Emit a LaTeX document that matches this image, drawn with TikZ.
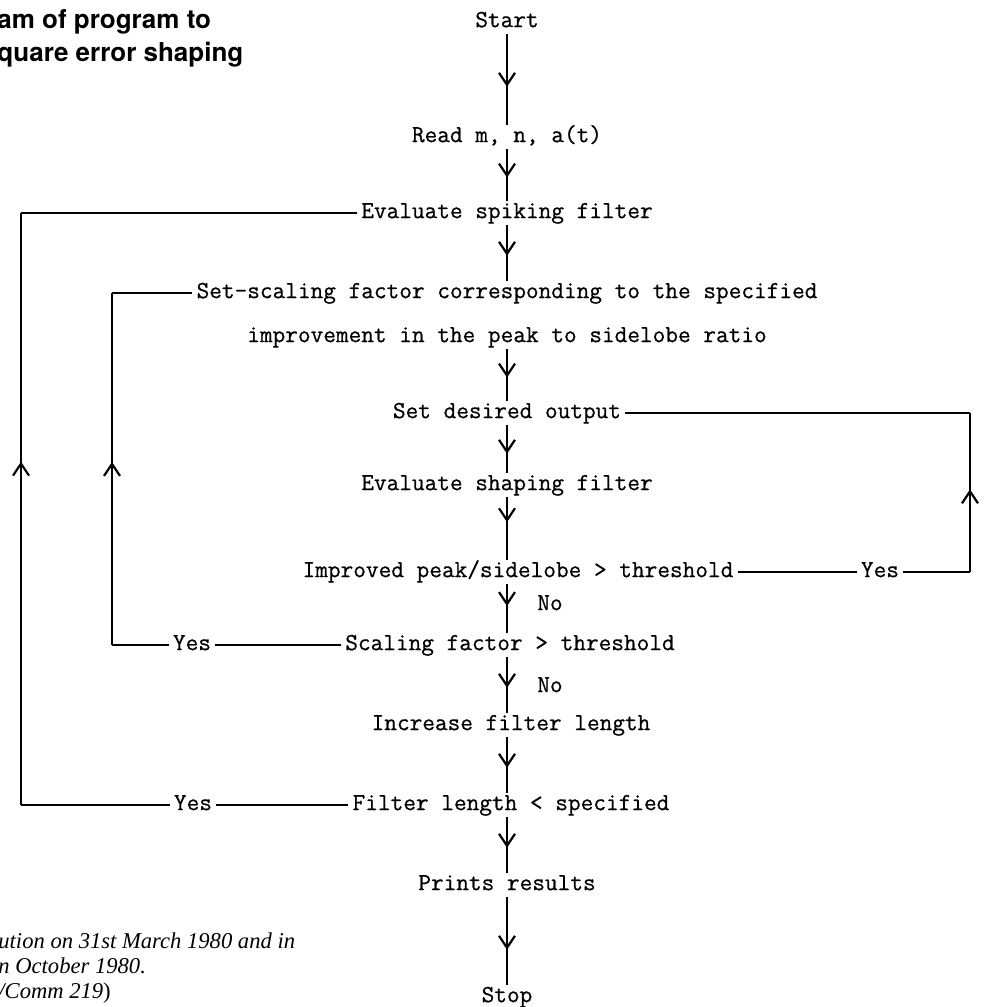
\documentclass[tikz,border=0pt]{standalone}
\usepackage{fontspec}
\setmonofont{Latin Modern Mono}[FakeBold=0.6]
\newfontfamily\titlefont{TeX Gyre Heros}
\newfontfamily\notefont{Liberation Serif}
\usetikzlibrary{arrows.meta,decorations.markings}

\begin{document}
\begin{tikzpicture}
  [
  x=0.5bp, y=-0.5bp,
  flow/.style={inner sep=2bp, text height=1.5ex, text depth=0.3ex, font=\ttfamily\fontsize{12.3bp}{14bp}\selectfont},
  link/.style={draw, line width=1.2bp},
  loop/.style={draw, line width=0.8bp},
  midarr/.style={decoration={markings, mark=at position #1 with {\arrow{Straight Barb[length=6bp, width=8bp, line width=1.1bp]}}}, postaction={decorate}},
  midarr/.default=0.55
  ]
  \useasboundingbox (0,0) rectangle (985,1007);

  % main column
  \node[flow] (start)   at (507,22)  {Start};
  \node[flow] (read)    at (507,137) {Read m, n, a(t)};
  \node[flow] (spike)   at (507,213) {Evaluate spiking filter};
  \node[flow] (scaleA)  at (507,293) {Set-scaling factor corresponding to the specified};
  \node[flow] (scaleB)  at (507,337) {improvement in the peak to sidelobe ratio};
  \node[flow] (desired) at (507,413) {Set desired output};
  \node[flow] (shape)   at (507,485) {Evaluate shaping filter};
  \node[flow] (improve) at (518,572) {Improved peak/sidelobe > threshold};
  \node[flow] (scaling) at (510,645) {Scaling factor > threshold};
  \node[flow] (grow)    at (511,725) {Increase filter length};
  \node[flow] (length)  at (511,805) {Filter length < specified};
  \node[flow] (print)   at (507,885) {Prints results};
  \node[flow] (stop)    at (507,997) {Stop};

  % branch labels
  \node[flow] (noA)  at (550,605) {No};
  \node[flow] (noB)  at (550,687) {No};
  \node[flow] (yesR) at (880,572) {Yes};
  \node[flow] (yesS) at (192,645) {Yes};
  \node[flow] (yesL) at (193,805) {Yes};

  % corners of the loops
  \coordinate (rb) at (970,572);
  \coordinate (rt) at (970,413);
  \coordinate (sb) at (112,645);
  \coordinate (st) at (112,293);
  \coordinate (lb) at (21,805);
  \coordinate (lt) at (21,213);

  % downward flow, all on the column of Start
  \path[link, midarr=0.58] (start) -- (read);
  \path[link, midarr] (read) -- (spike);
  \path[link, midarr] (spike) -- (scaleA);
  \path[link, midarr] (scaleB) -- (desired);
  \path[link, midarr=0.6] (desired) -- (shape);
  \path[link, midarr=0.4] (shape) -- (improve.north -| start);
  \path[link, midarr=0.45] (improve.south -| start) -- (scaling.north -| start);
  \path[link, midarr] (scaling.south -| start) -- (grow.north -| start);
  \path[link, midarr] (grow.south -| start) -- (length.north -| start);
  \path[link, midarr] (length.south -| start) -- (print);
  \path[link, midarr=0.6] (print) -- (stop);

  % feedback loops
  \path[loop] (improve) -- (yesR);
  \path[loop] (yesR) -- (rb);
  \path[loop, midarr=0.52] (rb) -- (rt);
  \path[loop] (rt) -- (desired);

  \path[loop] (scaling) -- (yesS);
  \path[loop] (yesS) -- (sb);
  \path[loop, midarr=0.52] (sb) -- (st);
  \path[loop] (st) -- (scaleA);

  \path[loop] (length) -- (yesL);
  \path[loop] (yesL) -- (lb);
  \path[loop, midarr=0.58] (lb) -- (lt);
  \path[loop] (lt) -- (spike);

  % caption fragments at the cut edge
  \node[anchor=west, inner sep=0pt, align=left, font=\titlefont\bfseries\fontsize{13bp}{16.5bp}\selectfont] (title) at (-3,38)
    {am of program to\\quare error shaping};
  \node[anchor=west, inner sep=0pt, align=left, font=\notefont\itshape\fontsize{11.3bp}{12.5bp}\selectfont] (note) at (-2,968)
    {ution on 31st March 1980 and in\\n October 1980.\\/Comm 219\textup{)}};
\end{tikzpicture}
\end{document}
